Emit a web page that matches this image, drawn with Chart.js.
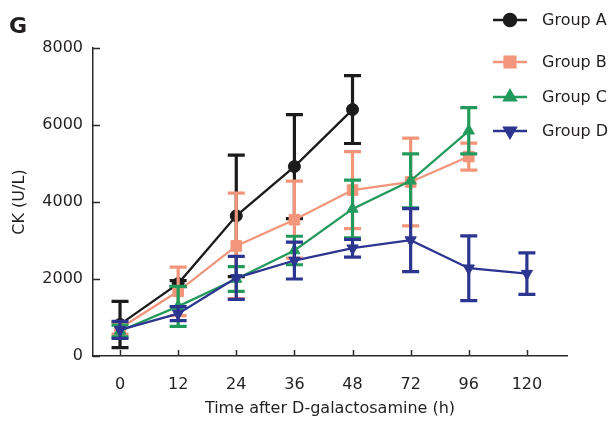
<!DOCTYPE html>
<html>
<head>
<meta charset="utf-8">
<script src="https://cdn.jsdelivr.net/npm/chart.js@4.4.1/dist/chart.umd.min.js"></script>
<style>
    html, body { margin: 0; padding: 0; background: #fff; }
    #wrap { position: relative; width: 612px; height: 422px; }
</style>
</head>
<body>
<div id="wrap"><canvas id="js-ck-chart" width="612" height="422"></canvas></div>
<script>
// Chart data
const hours = ["0", "12", "24", "36", "48", "72", "96", "120"];
const yTicks = [0, 2000, 4000, 6000, 8000];

const groupA = [820, 1880, 3640, 4920, 6400, null, null, null];
const groupAErr = [600, 80, 1580, 1350, 880, null, null, null];
const groupB = [720, 1680, 2860, 3540, 4310, 4520, 5180, null];
const groupBErr = [150, 630, 1370, 1000, 1000, 1140, 350, null];
const groupC = [650, 1290, 2000, 2740, 3820, 4550, 5850, null];
const groupCErr = [150, 520, 320, 370, 750, 700, 600, null];
const groupD = [680, 1100, 2030, 2480, 2800, 3010, 2280, 2140];
const groupDErr = [220, 180, 560, 480, 230, 820, 840, 540];

const seriesNames = ["Group A", "Group B", "Group C", "Group D"];

// Colours
const colA = "#1b1b1b";
const colB = "#f2957b";
const colC = "#239a5c";
const colD = "#2c3590";
const axisCol = "#2b2b2b";
const textCol = "#231f20";
const fontFamily = "'DejaVu Sans', Verdana, sans-serif";

function toXY(values) {
    return values.map((v, i) => ({ x: i, y: v }));
}

function makeSet(label, values, errs, color, style, rotation, radius, order) {
    return {
        label: label,
        data: toXY(values),
        errors: errs,
        borderColor: color,
        backgroundColor: color,
        pointBackgroundColor: color,
        pointBorderColor: color,
        pointStyle: style,
        rotation: rotation,
        pointRadius: radius,
        pointBorderWidth: 1,
        borderWidth: 2.3,
        tension: 0,
        order: order,
    };
}

// Error bars, drawn just before each dataset so layering follows the lines
const errorBars = {
    id: "errorBars",
    beforeDatasetDraw(chart, args) {
        const ds = chart.data.datasets[args.index];
        const xs = chart.scales.x, ys = chart.scales.y;
        const ctx = chart.ctx;
        ctx.save();
        ctx.strokeStyle = ds.borderColor;
        ctx.lineWidth = 3.2;
        ctx.lineCap = "butt";
        ds.data.forEach((p, i) => {
            const e = ds.errors[i];
            if (p.y === null || e === null) return;
            const x = xs.getPixelForValue(p.x);
            const yt = ys.getPixelForValue(p.y + e);
            const yb = ys.getPixelForValue(p.y - e);
            ctx.beginPath();
            ctx.moveTo(x, yt); ctx.lineTo(x, yb);
            ctx.moveTo(x - 8.5, yt); ctx.lineTo(x + 8.5, yt);
            ctx.moveTo(x - 8.5, yb); ctx.lineTo(x + 8.5, yb);
            ctx.stroke();
        });
        ctx.restore();
    },
};

// Inward tick marks, panel letter and legend
const decorations = {
    id: "decorations",
    afterDraw(chart) {
        const ctx = chart.ctx;
        const xs = chart.scales.x, ys = chart.scales.y;
        const area = chart.chartArea;
        ctx.save();
        ctx.strokeStyle = axisCol;
        ctx.lineWidth = 1.5;
        ctx.beginPath();
        xs.ticks.forEach((t) => {
            const x = Math.round(xs.getPixelForValue(t.value)) + 0.5;
            ctx.moveTo(x, area.bottom); ctx.lineTo(x, area.bottom - 6);
        });
        ys.ticks.forEach((t) => {
            const y = Math.round(ys.getPixelForValue(t.value)) + 0.5;
            ctx.moveTo(area.left, y); ctx.lineTo(area.left + 7, y);
        });
        ctx.stroke();

        // Panel letter
        ctx.fillStyle = textCol;
        ctx.font = "bold 22px " + fontFamily;
        ctx.textBaseline = "alphabetic";
        ctx.textAlign = "left";
        ctx.fillText("G", 9, 33);

        // Legend
        const rows = [20, 62, 97, 131];
        ctx.font = "16px " + fontFamily;
        ctx.textBaseline = "middle";
        chart.data.datasets.forEach((ds, i) => {
            const y = rows[i];
            ctx.strokeStyle = ds.borderColor;
            ctx.lineWidth = 2.5;
            ctx.beginPath();
            ctx.moveTo(493, y); ctx.lineTo(527, y);
            ctx.stroke();
            Chart.helpers.drawPoint(ctx, {
                pointStyle: ds.pointStyle,
                rotation: ds.rotation,
                radius: ds.pointRadius,
                borderWidth: 1,
            }, 510, y);
            ctx.fillStyle = ds.borderColor;
            ctx.fill();
            ctx.fillStyle = textCol;
            ctx.fillText(seriesNames[i], 542, y + 1);
        });
        ctx.restore();
    },
};

const chartCon = document.getElementById("js-ck-chart");

new Chart(chartCon, {
    type: "line",
    data: {
        datasets: [
            makeSet(seriesNames[0], groupA, groupAErr, colA, "circle", 0, 6, 4),
            makeSet(seriesNames[1], groupB, groupBErr, colB, "rect", 0, 7.5, 3),
            makeSet(seriesNames[2], groupC, groupCErr, colC, "triangle", 0, 6.5, 2),
            makeSet(seriesNames[3], groupD, groupDErr, colD, "triangle", 180, 6.5, 1),
        ],
    },
    options: {
        responsive: false,
        animation: false,
        layout: { padding: { left: 0, right: 45, top: 48, bottom: 0 } },
        plugins: {
            legend: { display: false },
            tooltip: { enabled: false },
        },
        scales: {
            x: {
                type: "linear",
                min: -0.465,
                max: 7.69,
                afterBuildTicks(scale) {
                    scale.ticks = hours.map((_, i) => ({ value: i }));
                },
                afterFit(scale) { scale.height = 66; },
                border: { display: true, color: axisCol, width: 1.5 },
                grid: { display: false, drawTicks: false },
                ticks: {
                    padding: 19,
                    color: textCol,
                    font: { family: fontFamily, size: 16 },
                    callback: (v) => hours[v],
                },
                title: {
                    display: true,
                    text: "Time after D-galactosamine (h)",
                    color: textCol,
                    font: { family: fontFamily, size: 16 },
                    padding: { top: 0, bottom: 4 },
                },
            },
            y: {
                min: 0,
                max: 8000,
                afterBuildTicks(scale) {
                    scale.ticks = yTicks.map((v) => ({ value: v }));
                },
                afterFit(scale) { scale.width = 93; },
                border: { display: true, color: axisCol, width: 1.5 },
                grid: { display: false, drawTicks: false },
                ticks: {
                    padding: 10,
                    color: textCol,
                    font: { family: fontFamily, size: 16 },
                    callback: (v) => String(v),
                },
                title: {
                    display: true,
                    text: "CK (U/L)",
                    color: textCol,
                    font: { family: fontFamily, size: 16 },
                    padding: { top: 10, bottom: 0 },
                },
            },
        },
    },
    plugins: [errorBars, decorations],
});
</script>
</body>
</html>
